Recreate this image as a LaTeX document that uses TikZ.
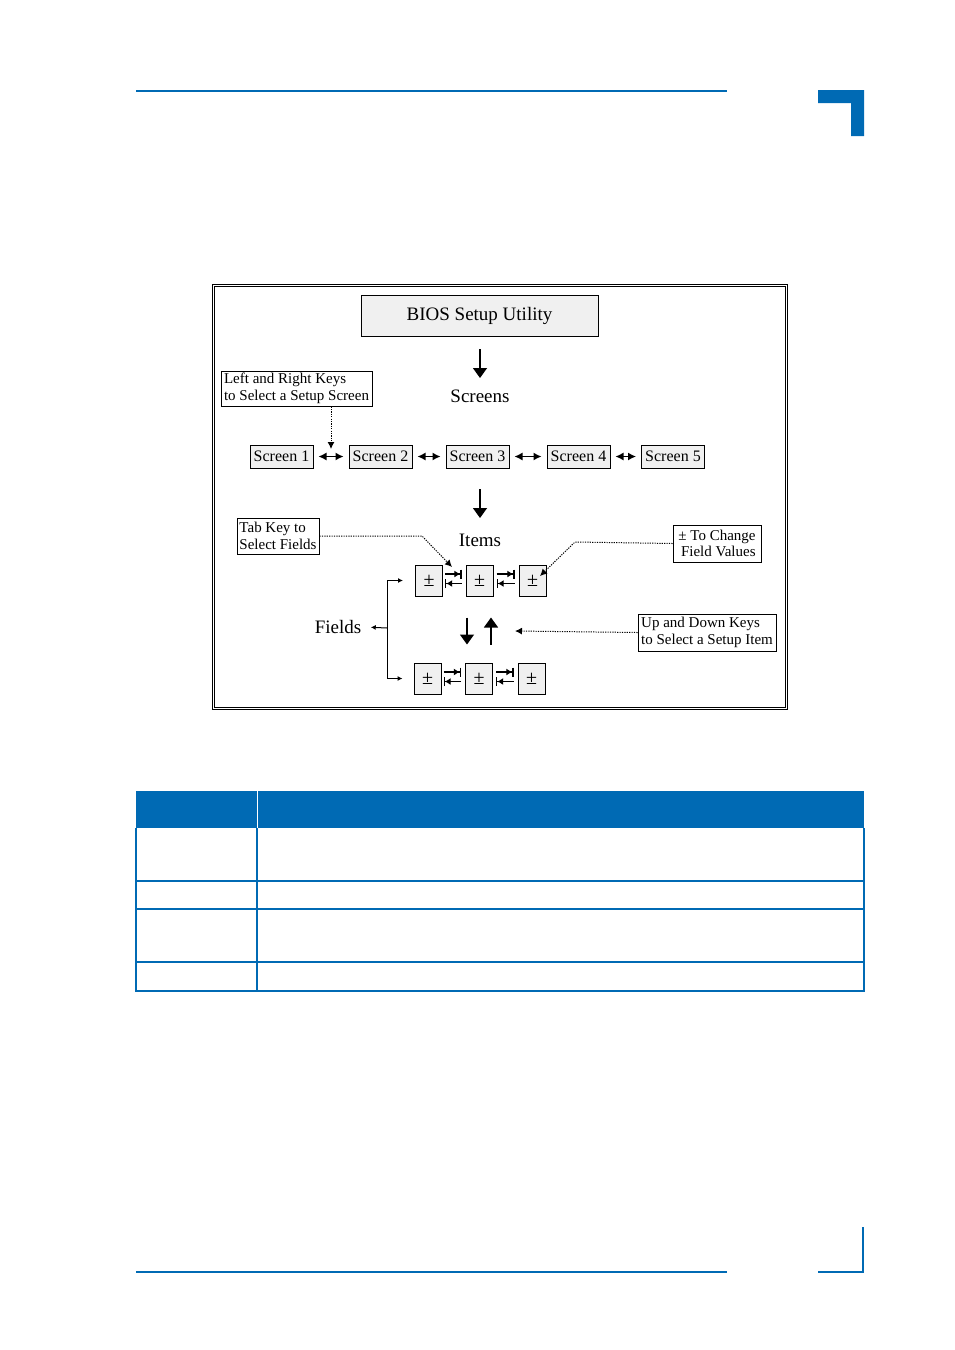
\documentclass[tikz,border=0pt]{standalone}
\usepackage{fontspec}
\setmainfont{Liberation Serif}
\usetikzlibrary{arrows.meta}

\definecolor{pageblue}{RGB}{0,106,180}
\definecolor{boxgray}{RGB}{240,240,240}

\begin{document}
\begin{tikzpicture}[x=1pt, y=-1pt,
        box/.style={draw, rectangle, fill=boxgray, inner sep=0pt, line width=1pt},
        screen/.style={box, minimum width=63pt, minimum height=23pt, font=\fontsize{16}{17}\selectfont},
        field/.style={box, minimum width=27pt, minimum height=31pt, font=\fontsize{20}{20}\selectfont},
        keybox/.style={draw, rectangle, fill=white, inner sep=1.5pt, line width=1pt, font=\fontsize{15}{16.5}\selectfont},
        bigtext/.style={font=\fontsize{19}{22}\selectfont},
        bigarrow/.style={-{Triangle[length=10pt, width=14pt]}, line width=1.4pt},
        twoway/.style={{Latex[length=8pt, width=8pt]}-{Latex[length=8pt, width=8pt]}, line width=1.3pt, shorten <=5pt, shorten >=5pt},
        tabarrow/.style={-{Latex[length=6pt, width=7pt]Bar[width=9pt, line width=1.2pt]}, line width=1.1pt},
        dotarrow/.style={dash pattern=on 1.2pt off 1.2pt, -{Latex[length=7pt, width=7pt]}, line width=1pt},
        smallarrow/.style={-{Latex[length=5pt, width=5pt]}, line width=1pt},
        rule/.style={draw=pageblue, line width=1.3pt}
    ]
        \useasboundingbox (0,0) rectangle (954,1350);

        % Page marks
        \draw[pageblue, line width=2pt] (136,91) -- (727,91);
        \fill[pageblue] (818,90) -- (864,90) -- (864,136) -- (851,136) -- (851,103) -- (818,103) -- cycle;
        \draw[pageblue, line width=2pt] (136,1272) -- (727,1272);
        \draw[pageblue, line width=2pt] (818,1272) -| (863,1227);

        % Frame
        \draw[double=white, double distance=1.6pt, line width=1pt] (213.5,285.5) rectangle (786.5,708.5);

        % Top
        \node[box, minimum width=237pt, minimum height=41pt, font=\fontsize{19}{22}\selectfont] (bios) at (479.5,315.5) {BIOS Setup Utility};
        \node[bigtext] (screens) at (480,396) {Screens};
        \node[keybox, align=left, minimum width=151pt, minimum height=35pt] (lrkeys) at (296.5,388.5) {Left and Right Keys\\to Select a Setup Screen};

        % Screens
        \node[screen] (sc1) at (281.5,456.5) {Screen 1};
        \node[screen] (sc2) at (380.5,456.5) {Screen 2};
        \node[screen] (sc3) at (477.5,456.5) {Screen 3};
        \node[screen] (sc4) at (578.5,456.5) {Screen 4};
        \node[screen] (sc5) at (673,456.5) {Screen 5};

        % Items
        \node[bigtext] (items) at (480,540) {Items};
        \node[keybox, align=left, minimum width=82pt, minimum height=36pt] (tab) at (278,536) {Tab Key to\\Select Fields};
        \node[keybox, align=right, minimum width=88pt, minimum height=37pt] (change) at (717,543.5) {± To Change\\Field Values};

        \node[field] (f1t) at (429,580.5) {±};
        \node[field] (f2t) at (479.5,580.5) {±};
        \node[field] (f3t) at (532.5,580.5) {±};
        \node[field] (f1b) at (427.5,678.5) {±};
        \node[field] (f2b) at (479,678.5) {±};
        \node[field] (f3b) at (531.5,678.5) {±};

        % Fields
        \node[bigtext] (fields) at (338,627) {Fields};
        \node[keybox, align=left, minimum width=138pt, minimum height=37pt] (updown) at (707,632.5) {Up and Down Keys\\to Select a Setup Item};

        \coordinate (lrtip) at (331,449);
        \coordinate (tabtip) at (452,567);
        \coordinate (changetip) at (540,576);
        \coordinate (udtip) at (515,631);
        \coordinate (brk) at (387,628);

        % Paths
        \draw[bigarrow] ([yshift=47pt]screens.center) -- ([yshift=18pt]screens.center);
        \draw[bigarrow] ([yshift=51pt]items.center) -- ([yshift=22pt]items.center);
        \draw[dotarrow] (lrkeys.south -| lrtip) -- (lrtip);

        \draw[twoway] (sc1.east) -- (sc2.west);
        \draw[twoway] (sc2.east) -- (sc3.west);
        \draw[twoway] (sc3.east) -- (sc4.west);
        \draw[twoway] (sc4.east) -- (sc5.west);

        \draw[dotarrow] (tab.east) -- (422,536) -- (tabtip);
        \draw[dotarrow] (change.west) -- (575,542) -- (changetip);
        \draw[dotarrow] (updown.west) -- (udtip);

        \draw[tabarrow, shorten <=2pt, shorten >=4pt] ([yshift=6.5pt]f1t.east) -- ([yshift=6.5pt]f2t.west);
        \draw[tabarrow, shorten <=4pt, shorten >=2pt] ([yshift=-3pt]f2t.west) -- ([yshift=-3pt]f1t.east);
        \draw[tabarrow, shorten <=3pt, shorten >=4pt] ([yshift=6.5pt]f2t.east) -- ([yshift=6.5pt]f3t.west);
        \draw[tabarrow, shorten <=4pt, shorten >=3pt] ([yshift=-3pt]f3t.west) -- ([yshift=-3pt]f2t.east);
        \draw[tabarrow, shorten <=2pt, shorten >=4pt] ([yshift=6.5pt]f1b.east) -- ([yshift=6.5pt]f2b.west);
        \draw[tabarrow, shorten <=4pt, shorten >=2pt] ([yshift=-3pt]f2b.west) -- ([yshift=-3pt]f1b.east);
        \draw[tabarrow, shorten <=3pt, shorten >=4pt] ([yshift=6.5pt]f2b.east) -- ([yshift=6.5pt]f3b.west);
        \draw[tabarrow, shorten <=4pt, shorten >=3pt] ([yshift=-3pt]f3b.west) -- ([yshift=-3pt]f2b.east);

        \draw[bigarrow, shorten <=21pt, shorten >=18pt] ([xshift=-12.5pt]f2t.south) -- ([xshift=-12pt]f2b.north);
        \draw[bigarrow, shorten <=18pt, shorten >=21pt] ([xshift=12pt]f2b.north) -- ([xshift=11.5pt]f2t.south);

        \draw[smallarrow, shorten >=6pt] (brk) -- (fields.east);
        \draw[smallarrow, shorten >=12pt] (brk) |- (f1t.west);
        \draw[smallarrow, shorten >=11pt] (brk) |- (f1b.west);

        % Table
        \fill[pageblue] (136,791) rectangle (864,828);
        \draw[white, line width=1pt] (257,791) -- (257,828);
        \draw[rule] (136,828) -- (136,991) -- (864,991) -- (864,828);
        \draw[rule] (257,828) -- (257,991);
        \draw[rule] (136,881) -- (864,881);
        \draw[rule] (136,909) -- (864,909);
        \draw[rule] (136,962) -- (864,962);

    \end{tikzpicture}
\end{document}
